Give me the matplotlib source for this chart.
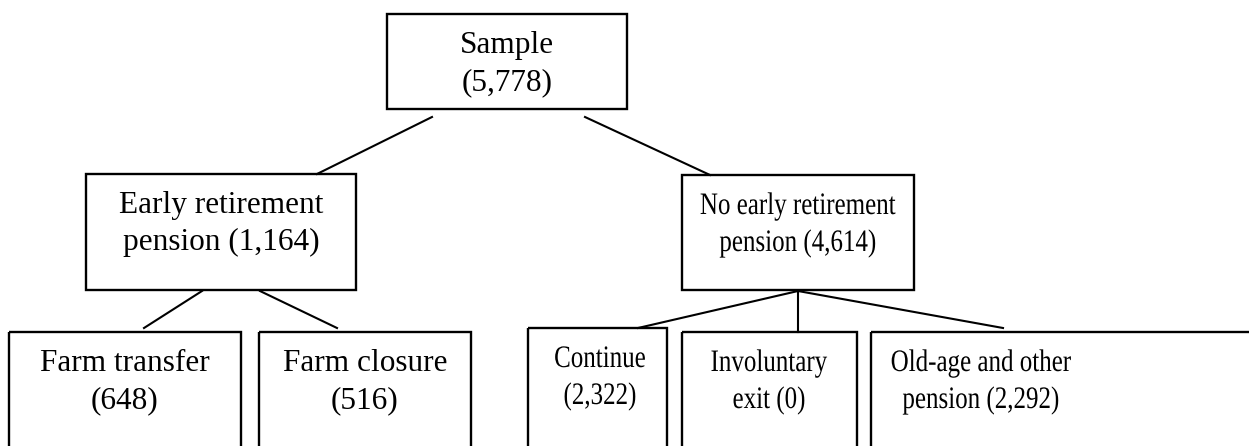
import matplotlib
matplotlib.use("Agg")
import matplotlib.pyplot as plt
from matplotlib.patches import Rectangle
from matplotlib.patheffects import AbstractPathEffect
from matplotlib.transforms import Affine2D

# node data
labels = ["Sample", "Early retirement\npension", "No early retirement\npension",
          "Farm transfer", "Farm closure", "Continue",
          "Involuntary\nexit", "Old-age and other\npension"]
counts = [5778, 1164, 4614, 648, 516, 2322, 0, 2292]
parents = [None, 0, 0, 1, 1, 2, 2, 2]
# counts shown on the same line as the last word for these nodes
inline_count = [False, True, True, False, False, False, True, True]

# box layout in pixels: left, top, right, bottom
boxes = [(387, 14, 627, 109), (86, 174, 356, 290), (682, 175, 914, 290),
         (9, 332, 241, 460), (259, 332, 471, 460), (528, 328, 667, 460),
         (682, 332, 857, 460), (871, 332, 1265, 460)]
text_x = [507, 221, 798, 125, 365, 600, 769, 981]
# the right-hand part of the original is horizontally squeezed
squeeze = [1, 1, 0.8, 1, 1, 0.8, 0.8, 0.8]
# connector ends: (x_start, y_start, x_end, y_end)
edges = [(432, 117, 317, 174), (585, 117, 710, 175),
         (202, 291, 144, 328), (260, 291, 337, 328),
         (798, 291, 638, 328), (798, 291, 798, 332), (798, 291, 1003, 328)]


class SqueezeX(AbstractPathEffect):
    """Scale glyphs horizontally around a fixed display x."""

    def __init__(self, cx, factor):
        super().__init__()
        self.cx = cx
        self.factor = factor

    def draw_path(self, renderer, gc, tpath, affine, rgbFace=None):
        s = Affine2D().translate(-self.cx, 0).scale(self.factor, 1).translate(self.cx, 0)
        renderer.draw_path(gc, tpath, affine + s, rgbFace)


fig = plt.figure(figsize=(12.49, 4.46), dpi=100)
ax = fig.add_axes([0, 0, 1, 1])
ax.set_xlim(0, 1249)
ax.set_ylim(446, 0)
ax.axis("off")

for i, (l, t, r, b) in enumerate(boxes):
    ax.add_patch(Rectangle((l, t), r - l, b - t, fill=False, lw=1.7, ec="black"))
    if inline_count[i]:
        lines = "{} ({:,})".format(labels[i], counts[i]).split("\n")
    else:
        lines = [labels[i], "({:,})".format(counts[i])]
    effects = None
    if squeeze[i] != 1:
        cx = ax.transData.transform((text_x[i], 0))[0]
        effects = [SqueezeX(cx, squeeze[i])]
    for k, line in enumerate(lines):
        ax.text(text_x[i], t + 39 + 37 * k, line, ha="center", va="baseline",
                fontsize=22.5, family="Liberation Serif", path_effects=effects)

for x0, y0, x1, y1 in edges:
    ax.plot([x0, x1], [y0, y1], color="black", lw=1.5)

fig.savefig("out.png", dpi=100)
